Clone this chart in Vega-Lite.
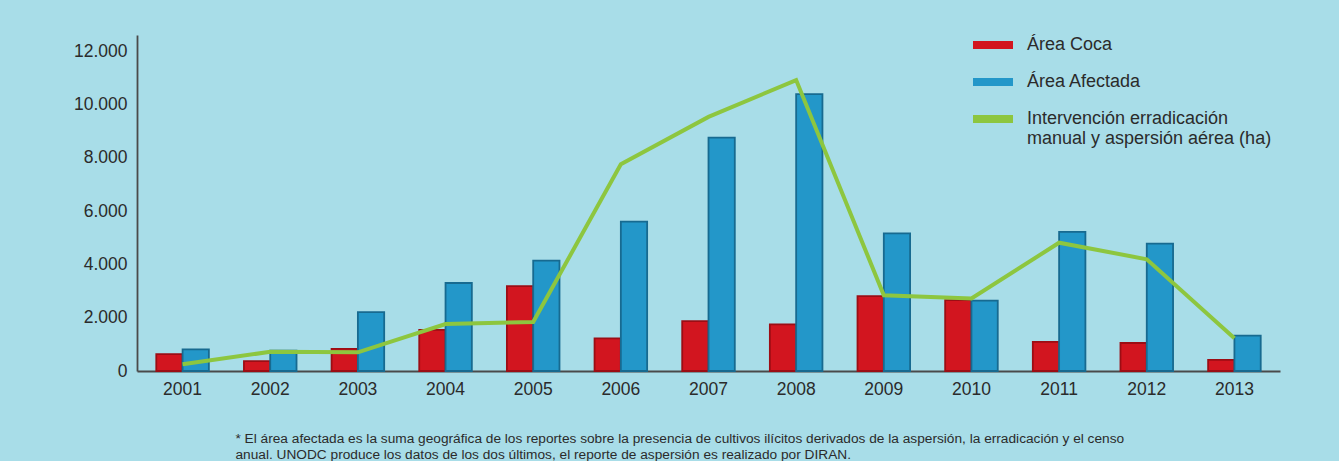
{
  "$schema": "https://vega.github.io/schema/vega-lite/v6.json",
  "autosize": {"type": "none"},
  "width": 1143,
  "height": 336,
  "padding": {"left": 137, "top": 35, "right": 59, "bottom": 90},
  "background": "#a8dde8",
  "config": {
    "view": {"stroke": null},
    "font": "Liberation Sans",
    "axis": {"grid": false, "ticks": false, "domainColor": "#4a4a4a", "domainWidth": 1.8, "labelColor": "#2b2b2b", "labelFontSize": 17.5, "labelFont": "Liberation Sans", "title": null}
  },
  "title": {
    "text": ["* El área afectada es la suma geográfica de los reportes sobre la presencia de cultivos ilícitos derivados de la aspersión, la erradicación y el censo", "anual. UNODC produce los datos de los dos últimos, el reporte de aspersión es realizado por DIRAN."],
    "orient": "bottom",
    "anchor": "start",
    "dx": 162,
    "offset": 34,
    "fontSize": 13.7,
    "fontWeight": "normal",
    "lineHeight": 16,
    "color": "#2b2b2b",
    "font": "Liberation Sans"
  },
  "datasets": {
    "barras": [
      {"anio": "2001", "serie": "Área Coca", "valor": 630},
      {"anio": "2002", "serie": "Área Coca", "valor": 370},
      {"anio": "2003", "serie": "Área Coca", "valor": 830},
      {"anio": "2004", "serie": "Área Coca", "valor": 1540},
      {"anio": "2005", "serie": "Área Coca", "valor": 3180},
      {"anio": "2006", "serie": "Área Coca", "valor": 1220},
      {"anio": "2007", "serie": "Área Coca", "valor": 1870},
      {"anio": "2008", "serie": "Área Coca", "valor": 1750},
      {"anio": "2009", "serie": "Área Coca", "valor": 2810},
      {"anio": "2010", "serie": "Área Coca", "valor": 2660},
      {"anio": "2011", "serie": "Área Coca", "valor": 1090},
      {"anio": "2012", "serie": "Área Coca", "valor": 1050},
      {"anio": "2013", "serie": "Área Coca", "valor": 420},
      {"anio": "2001", "serie": "Área Afectada", "valor": 810},
      {"anio": "2002", "serie": "Área Afectada", "valor": 760},
      {"anio": "2003", "serie": "Área Afectada", "valor": 2210},
      {"anio": "2004", "serie": "Área Afectada", "valor": 3300},
      {"anio": "2005", "serie": "Área Afectada", "valor": 4140},
      {"anio": "2006", "serie": "Área Afectada", "valor": 5600},
      {"anio": "2007", "serie": "Área Afectada", "valor": 8750},
      {"anio": "2008", "serie": "Área Afectada", "valor": 10380},
      {"anio": "2009", "serie": "Área Afectada", "valor": 5160},
      {"anio": "2010", "serie": "Área Afectada", "valor": 2640},
      {"anio": "2011", "serie": "Área Afectada", "valor": 5220},
      {"anio": "2012", "serie": "Área Afectada", "valor": 4780},
      {"anio": "2013", "serie": "Área Afectada", "valor": 1330}
    ],
    "linea": [
      {"anio": "2001", "serie": "Intervención", "valor": 250},
      {"anio": "2002", "serie": "Intervención", "valor": 720},
      {"anio": "2003", "serie": "Intervención", "valor": 700},
      {"anio": "2004", "serie": "Intervención", "valor": 1760},
      {"anio": "2005", "serie": "Intervención", "valor": 1840},
      {"anio": "2006", "serie": "Intervención", "valor": 7750},
      {"anio": "2007", "serie": "Intervención", "valor": 9530},
      {"anio": "2008", "serie": "Intervención", "valor": 10910},
      {"anio": "2009", "serie": "Intervención", "valor": 2840},
      {"anio": "2010", "serie": "Intervención", "valor": 2720},
      {"anio": "2011", "serie": "Intervención", "valor": 4810},
      {"anio": "2012", "serie": "Intervención", "valor": 4190},
      {"anio": "2013", "serie": "Intervención", "valor": 1230}
    ]
  },
  "encoding": {
    "x": {"field": "anio", "type": "nominal", "sort": null, "scale": {"paddingInner": 0.4, "paddingOuter": 0.22}, "axis": {"labelAngle": 0, "labelPadding": 9}},
    "y": {"field": "valor", "type": "quantitative", "scale": {"domain": [0, 12600], "nice": false}, "axis": {"values": [0, 2000, 4000, 6000, 8000, 10000, 12000], "labelPadding": 10, "labelExpr": "replace(format(datum.value, ','), ',', '.')"}}
  },
  "layer": [
    {
      "data": {"name": "barras"},
      "mark": {"type": "bar", "strokeWidth": 1.8},
      "encoding": {
        "xOffset": {"field": "serie", "type": "nominal", "sort": ["Área Coca", "Área Afectada"], "scale": {"paddingInner": 0, "paddingOuter": 0}},
        "color": {
          "field": "serie", "type": "nominal",
          "scale": {"domain": ["Área Coca", "Área Afectada", "Intervención"], "range": ["#d2151f", "#2397c9", "#8dc63f"]},
          "legend": {
            "title": null, "orient": "none", "legendX": 846, "legendY": 0, "padding": 0,
            "symbolType": "M-2,-0.4H2V0.4H-2Z", "symbolSize": 400, "symbolStrokeWidth": 0,
            "labelFontSize": 18, "labelColor": "#2b2b2b", "labelFont": "Liberation Sans", "labelOffset": 24, "rowPadding": 18, "labelLimit": 400,
            "labelExpr": "datum.label == 'Intervención' ? ['Intervención erradicación', 'manual y aspersión aérea (ha)'] : datum.label",
            "encode": {
              "symbols": {"update": {"fill": {"scale": "color", "field": "value"}, "stroke": {"value": "transparent"}, "opacity": {"value": 1}}},
              "labels": {"update": {"lineHeight": {"value": 29}}}
            }
          }
        },
        "stroke": {"condition": {"test": "datum.serie == 'Área Coca'", "value": "#9c0d14"}, "value": "#176a90"}
      }
    },
    {
      "data": {"name": "linea"},
      "mark": {"type": "line", "strokeWidth": 4},
      "encoding": {
        "color": {"field": "serie", "type": "nominal"}
      }
    }
  ]
}
